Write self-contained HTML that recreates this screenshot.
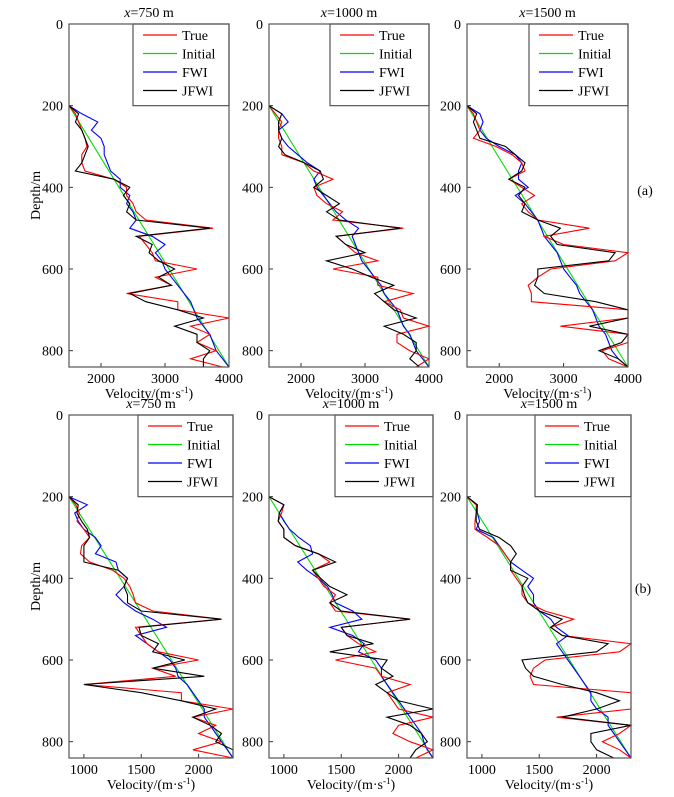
<!DOCTYPE html>
<html><head><meta charset="utf-8"><style>
body{margin:0;background:#fff;}
svg, svg text{font-family:"Liberation Serif","Times New Roman",serif;}
</style></head><body>
<svg id="fig" width="674" height="792" viewBox="0 0 674 792" xmlns="http://www.w3.org/2000/svg" font-family="Liberation Serif, serif">
<text x="645" y="195" font-size="14" text-anchor="middle" font-family="Liberation Serif, serif">(a)</text>
<text x="643" y="593" font-size="14" text-anchor="middle" font-family="Liberation Serif, serif">(b)</text>
</svg>
<script>
const depths=[200,220,240,260,280,300,320,340,360,380,400,420,440,460,480,500,520,540,560,580,600,620,640,660,680,700,720,740,760,780,800,820,840];
const titles=["750","1000","1500","750","1000","1500"];
const topTicks=[2000,3000,4000];
const botTicks=[1000,1500,2000];
const depthTicks=[0,200,400,600,800];
const a1True=[1500,1600,1650,1700,1750,1780,1700,1700,1750,2200,2400,2400,2500,2550,2700,3750,2600,2700,2800,2850,3500,2850,3100,2400,3200,3200,4000,3400,3700,3500,3800,3400,3900];
const a1Jfwi=[1500,1650,1600,1700,1750,1800,1750,1700,1600,2200,2450,2350,2450,2400,2550,3700,2550,2800,2750,2900,3150,2900,3100,2450,2700,3200,3600,3150,3500,3500,3700,3600,3600];
const a1Fwi=[1500,1700,1950,1850,2000,2050,2050,2100,2150,2300,2300,2450,2400,2500,2550,2450,2800,3000,2850,2950,3000,3100,3200,3300,3400,3450,3500,3600,3700,3750,3800,3900,4000];
const a2True=[1500,1600,1700,1650,1650,1700,1700,2050,2200,2500,2200,2250,2400,2650,2500,3600,2550,2700,2850,3200,2500,3200,3200,3750,3300,3550,3600,4000,3500,3500,3700,4000,3800];
const a2Jfwi=[1500,1700,1650,1650,1700,1650,1750,2050,2300,2350,2200,2400,2600,2400,2600,3550,2550,2700,3000,2400,2800,3100,3450,3150,3300,3450,3800,3300,3600,3800,3800,3700,3850];
const a2Fwi=[1500,1700,1800,1650,1700,1800,1950,2100,2300,2200,2250,2350,2450,2550,2700,2900,2800,2850,2900,2950,3050,3150,3250,3300,3400,3500,3550,3600,3700,3750,3800,3900,4000];
const a3True=[1500,1600,1650,1700,1600,1950,2200,2350,2400,2150,2350,2550,2350,2450,2600,3400,2700,3000,4000,3800,2800,2600,2450,2500,2500,4000,4000,2950,4000,4000,3600,3700,4000];
const a3Jfwi=[1500,1650,1600,1650,1700,2100,2250,2400,2350,2150,2400,2300,2400,2350,2600,2950,2800,2900,3800,3700,2600,2600,2550,2700,3500,4000,4000,3400,4000,3900,3550,3850,4000];
const a3Fwi=[1500,1700,1750,1700,1800,2000,2250,2350,2300,2300,2450,2250,2400,2500,2600,2650,2700,2800,2900,2950,3000,3100,3200,3250,3350,3450,3500,3550,3650,3700,3750,3850,4000];
const b1True=[870,930,960,940,1000,1050,980,970,1050,1250,1350,1400,1430,1450,1600,2200,1450,1500,1550,1650,2000,1600,1800,1000,1850,1850,2300,1950,2150,2000,2200,1950,2300];
const b1Jfwi=[870,950,940,980,1030,1050,1000,1000,1000,1300,1380,1350,1380,1380,1500,2200,1480,1500,1650,1600,1880,1600,2050,1000,1500,1850,2150,1950,2100,2200,2150,2300,2300];
const b1Fwi=[870,1030,920,950,1000,1100,1150,1100,1280,1300,1380,1350,1280,1350,1450,1600,1720,1450,1550,1650,1750,1800,1820,1900,1950,2000,2050,2050,2100,2150,2200,2250,2300];
const b2True=[870,1000,980,950,1000,1000,1100,1300,1400,1250,1300,1350,1450,1400,1450,2100,1500,1550,1650,1800,1450,1800,1850,2100,1900,1950,2000,2300,2000,1950,2100,2300,2150];
const b2Jfwi=[870,1000,960,950,1000,1000,1100,1300,1450,1250,1320,1400,1550,1400,1500,2100,1500,1550,1780,1400,1900,1850,1950,1800,1900,2000,2300,1900,2100,2200,2250,2150,2100];
const b2Fwi=[870,1000,960,1000,1050,1130,1230,1250,1120,1200,1300,1380,1420,1450,1600,1680,1400,1600,1700,1650,1800,1850,1850,1900,1950,2000,2050,2100,2150,2200,2220,2250,2300];
const b3True=[870,950,950,940,940,1050,1150,1200,1250,1250,1300,1350,1350,1400,1550,1800,1600,1700,2300,2200,1550,1450,1420,1450,2300,2300,2300,1650,2300,2200,2050,2200,2300];
const b3Jfwi=[870,960,950,950,980,1150,1250,1300,1250,1250,1400,1350,1370,1400,1500,1700,1600,1700,2100,2000,1350,1380,1450,1700,2000,2200,2000,1700,2300,1950,1950,2000,2150];
const b3Fwi=[870,960,960,980,950,1100,1150,1200,1250,1350,1450,1400,1450,1450,1500,1600,1650,1750,1650,1700,1750,1800,1850,1900,1950,1950,2000,2100,2100,2150,2200,2250,2300];

const svg=document.getElementById('fig');
const NS='http://www.w3.org/2000/svg';
const FF='Liberation Serif, serif';
function mk(tag,attrs,parent){const e=document.createElementNS(NS,tag);for(const k in attrs)e.setAttribute(k,attrs[k]);if(tag==='text')e.setAttribute('font-family',FF);parent.appendChild(e);return e;}
const panels=[
 {x0:69,x1:229,y0:24,y1:367,vmin:1500,vmax:4000,ticks:topTicks,t:a1True,j:a1Jfwi,f:a1Fwi,leg:133,ylab:true},
 {x0:269,x1:429,y0:24,y1:367,vmin:1500,vmax:4000,ticks:topTicks,t:a2True,j:a2Jfwi,f:a2Fwi,leg:330},
 {x0:467,x1:628,y0:24,y1:367,vmin:1500,vmax:4000,ticks:topTicks,t:a3True,j:a3Jfwi,f:a3Fwi,leg:529},
 {x0:69,x1:233,y0:415,y1:758,vmin:870,vmax:2300,ticks:botTicks,t:b1True,j:b1Jfwi,f:b1Fwi,leg:138,ylab:true},
 {x0:269,x1:433,y0:415,y1:758,vmin:870,vmax:2300,ticks:botTicks,t:b2True,j:b2Jfwi,f:b2Fwi,leg:335},
 {x0:467,x1:631,y0:415,y1:758,vmin:870,vmax:2300,ticks:botTicks,t:b3True,j:b3Jfwi,f:b3Fwi,leg:535}
];
panels.forEach((p,i)=>{
 const g=mk('g',{},svg);
 
 
 const X=v=>p.x0+(v-p.vmin)/(p.vmax-p.vmin)*(p.x1-p.x0);
 const Y=d=>p.y0+d/840*(p.y1-p.y0);
 const tt=mk('text',{x:(p.x0+p.x1)/2,y:p.y0-7,'font-size':14,'text-anchor':'middle'},g);
 
 
 tt.innerHTML='<tspan font-style="italic">x</tspan>='+titles[i]+' m';
 depthTicks.forEach(d=>{
  mk('line',{x1:p.x0,x2:p.x0+4,y1:Y(d),y2:Y(d),stroke:'#333'},g);
  const t=mk('text',{x:p.x0-6,y:Y(d)+5,'font-size':14,'text-anchor':'end'},g);
  
  
  t.textContent=d;
 });
 p.ticks.forEach(v=>{
  mk('line',{x1:X(v),x2:X(v),y1:p.y1,y2:p.y1-4,stroke:'#333'},g);
  const t=mk('text',{x:X(v),y:p.y1+16,'font-size':14,'text-anchor':'middle'},g);
  
  
  t.textContent=v;
 });
 const xl=mk('text',{x:(p.x0+p.x1)/2,y:p.y1+31,'font-size':14,'text-anchor':'middle'},g);
 
 
 xl.innerHTML='Velocity/(m·s<tspan font-size="9" dy="-5">-1</tspan><tspan dy="5">)</tspan>';
 if(p.ylab){
  const yl=mk('text',{x:0,y:0,'font-size':14,'text-anchor':'middle',transform:'translate(40,'+((p.y0+p.y1)/2-0)+') rotate(-90)'},g);
  
  
  yl.textContent='Depth/m';
 }
 const series=[['initial','#00dd00',[p.vmin,p.vmax],[200,840]],['fwi','#0000ff',p.f,depths],['true','#ff0000',p.t,depths],['jfwi','#000000',p.j,depths]];
 series.forEach(s=>{
  const pts=s[2].map((v,k)=>X(v).toFixed(1)+','+Y(s[3][k]).toFixed(1)).join(' ');
  const pl=mk('polyline',{points:pts,fill:'none',stroke:s[1],'stroke-width':1.1},g);
  
  
 });
 const lg=mk('g',{},g);
 
 
 const ly1=Y(200);
 mk('rect',{x:p.leg,y:p.y0,width:p.x1-p.leg,height:ly1-p.y0,fill:'#fff',stroke:'#555','stroke-width':1.2},lg);
 const names=[['True','#ff0000'],['Initial','#00dd00'],['FWI','#0000ff'],['JFWI','#000000']];
 names.forEach((n,k)=>{
  const yy=p.y0+11+k*18.5;
  mk('line',{x1:p.leg+10,x2:p.leg+44,y1:yy,y2:yy,stroke:n[1],'stroke-width':1.2},lg);
  const t=mk('text',{x:p.leg+49,y:yy+5,'font-size':14},lg);
  
  
  t.textContent=n[0];
 });
 const fr=mk('rect',{x:p.x0,y:p.y0,width:p.x1-p.x0,height:p.y1-p.y0,fill:'none',stroke:'#555','stroke-width':1.2},g);
 
 
});
</script>
</body></html>
